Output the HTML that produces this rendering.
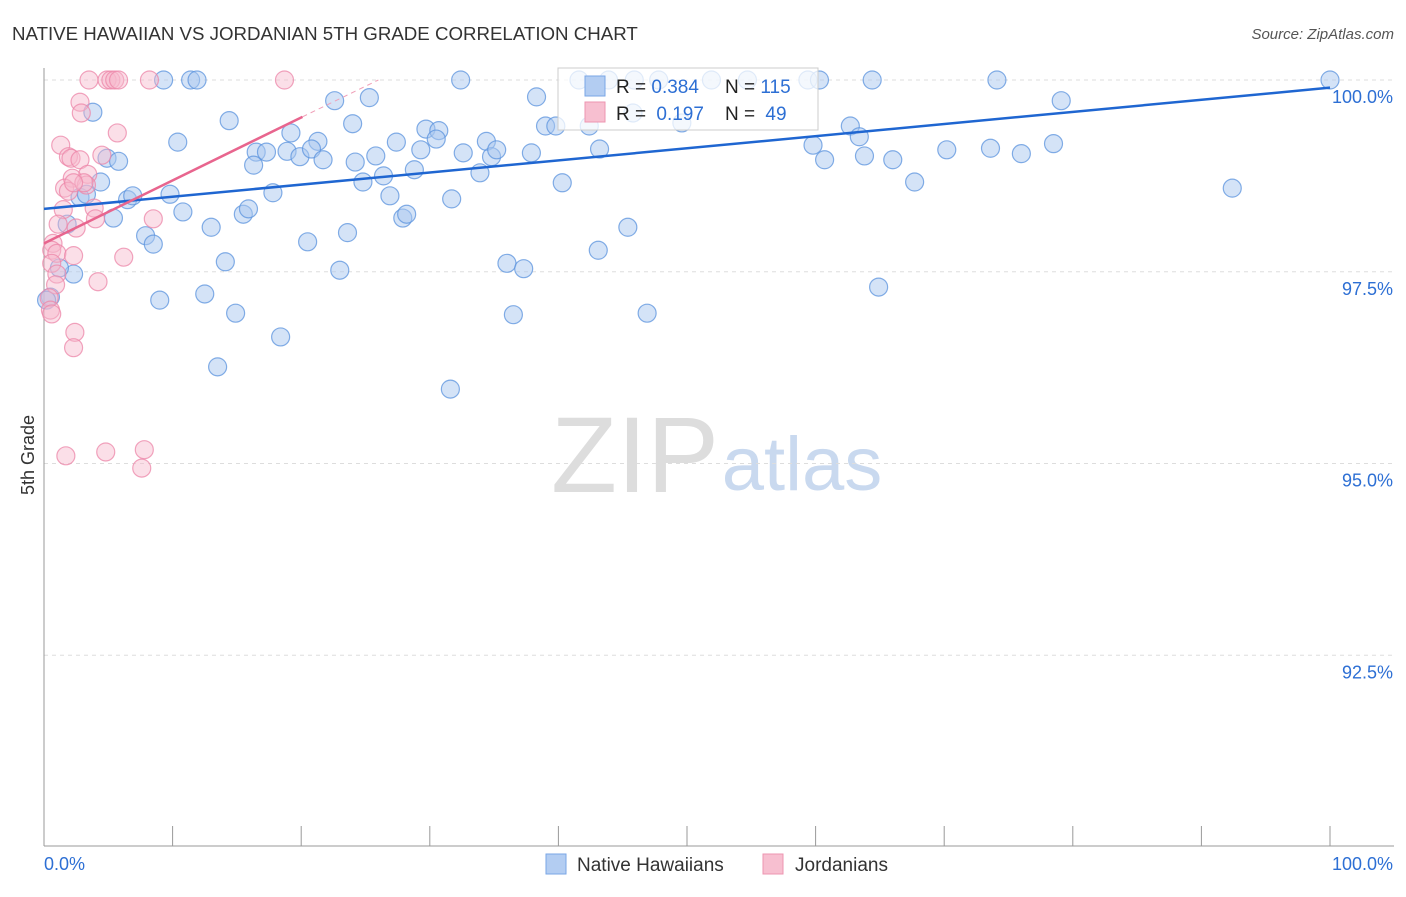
<!DOCTYPE html>
<html><head><meta charset="utf-8"><style>
body{margin:0;background:#fff;font-family:"Liberation Sans",sans-serif;}
svg text{font-family:"Liberation Sans",sans-serif;}
</style></head><body>
<svg id="chart" width="1406" height="892" viewBox="0 0 1406 892">
<text x="12" y="40" font-size="18.7" fill="#333">NATIVE HAWAIIAN VS JORDANIAN 5TH GRADE CORRELATION CHART</text>
<text x="1394" y="39" font-size="15" fill="#555" font-style="italic" text-anchor="end">Source: ZipAtlas.com</text>
<text x="34" y="455" font-size="18" fill="#333" text-anchor="middle" transform="rotate(-90 34 455)">5th Grade</text>
<g>
<text x="635" y="492" font-size="108" fill="#ddd" font-family="Liberation Serif" text-anchor="middle">ZIP</text>
<text x="802" y="490" font-size="76" fill="#c9d9ef" text-anchor="middle">atlas</text>
</g>
<g id="grid"></g>
<g id="axes"></g>
<g id="pts"></g>
<g id="trend"></g>
<g>
<rect x="558" y="68" width="260" height="62" fill="#fff" fill-opacity="0.75" stroke="#ccc"/>
<rect x="585" y="76" width="20" height="20" fill="#b3cdf2" stroke="#7aa6e6"/>
<rect x="585" y="102" width="20" height="20" fill="#f7bfd0" stroke="#ee94b0"/>
<text x="616" y="93" font-size="19" fill="#222">R = <tspan fill="#2d6fd4">0.384</tspan><tspan x="725">N = </tspan><tspan fill="#2d6fd4">115</tspan></text>
<text x="616" y="120" font-size="19" fill="#222">R = <tspan fill="#2d6fd4" dx="5">0.197</tspan><tspan x="725">N = </tspan><tspan fill="#2d6fd4" dx="5">49</tspan></text>
</g>
<g>
<rect x="546" y="854" width="20" height="20" fill="#b3cdf2" stroke="#7aa6e6"/>
<text x="577" y="871" font-size="19" fill="#333">Native Hawaiians</text>
<rect x="763" y="854" width="20" height="20" fill="#f7bfd0" stroke="#ee94b0"/>
<text x="795" y="871" font-size="19" fill="#333">Jordanians</text>
</g>
</svg>
<script>
const yTicks=[100,97.5,95,92.5];
const yTickLabels=["100.0%","97.5%","95.0%","92.5%"];
const xTickLabels=["0.0%","100.0%"];
const blueX=[9.3,11.4,11.9,32.4,41.6,43.9,45.9,47.8,51.9,54.7,59.4,60.3,64.4,74.1,100,3.8,22.6,25.3,38.3,79.1,10.4,14.4,19.2,21.3,24.0,29.7,30.7,34.4,39.0,39.8,42.4,45.8,49.6,62.7,63.4,92.4,4.9,5.8,16.5,17.3,18.9,19.9,20.8,21.7,24.2,25.8,27.4,29.3,30.5,32.6,34.8,35.2,37.9,43.2,59.8,60.7,63.8,66.0,70.2,73.6,76.0,78.5,4.4,16.3,26.4,28.8,33.9,24.8,40.3,67.7,2.8,3.3,6.5,6.9,9.8,17.8,26.9,31.7,5.4,10.8,15.5,15.9,27.9,28.2,13.0,1.8,7.9,8.5,20.5,23.6,43.1,45.4,14.1,23.0,36.0,37.3,2.3,1.2,9.0,12.5,64.9,14.9,36.5,46.9,18.4,13.5,31.6,0.5,0.2];
const blueY=[100,100,100,100,100,100,100,100,100,100,100,100,100,100,100,99.58,99.73,99.77,99.78,99.73,99.19,99.47,99.31,99.20,99.43,99.36,99.34,99.20,99.40,99.40,99.40,99.57,99.44,99.40,99.26,98.59,98.98,98.94,99.06,99.06,99.07,99.00,99.10,98.96,98.93,99.01,99.19,99.09,99.23,99.05,99.00,99.09,99.05,99.10,99.15,98.96,99.01,98.96,99.09,99.11,99.04,99.17,98.67,98.89,98.75,98.83,98.79,98.67,98.66,98.67,98.47,98.51,98.44,98.49,98.51,98.53,98.49,98.45,98.20,98.28,98.25,98.32,98.20,98.25,98.08,98.12,97.97,97.86,97.89,98.01,97.78,98.08,97.63,97.52,97.61,97.54,97.47,97.55,97.13,97.21,97.30,96.96,96.94,96.96,96.65,96.26,95.97,97.17,97.13];
const pinkX=[3.5,4.9,5.2,5.5,5.8,8.2,18.7,2.8,2.9,5.7,1.3,1.9,2.1,2.8,4.5,3.4,2.2,1.6,1.9,3.3,3.1,2.3,3.9,1.5,4.0,2.5,1.1,8.5,0.7,0.6,1.0,2.3,6.2,0.6,1.0,4.2,0.9,0.4,0.5,0.6,2.4,2.3,1.7,4.8,7.8,7.6];
const pinkY=[100,100,100,100,100,100,100,99.71,99.57,99.31,99.15,99.00,98.98,98.96,99.02,98.77,98.72,98.59,98.55,98.63,98.66,98.66,98.33,98.31,98.19,98.07,98.12,98.19,97.87,97.78,97.74,97.71,97.69,97.61,97.47,97.37,97.33,97.16,97.00,96.95,96.71,96.51,95.10,95.15,95.18,94.94];
const blueTrend=[[0,98.32],[100,99.90]];
const pinkTrend=[[0,97.87],[20.1,99.52]];
const pinkDash=[[20.1,99.52],[26,100]];
const NS="http://www.w3.org/2000/svg";
const xs=v=>44+v*12.86;
const ys=v=>80+(100-v)*76.7;
function mk(tag,attrs,parent){const e=document.createElementNS(NS,tag);for(const k in attrs)e.setAttribute(k,attrs[k]);document.getElementById(parent).appendChild(e);return e;}
yTicks.forEach((t,i)=>{
 const l=mk('line',{x1:44,x2:1394,y1:ys(t),y2:ys(t),stroke:'#ddd','stroke-dasharray':'4 4'},'grid');
 
 
 const tx=mk('text',{x:1393,y:ys(t)+23,'font-size':18,fill:'#2d6fd4','text-anchor':'end'},'grid');
 tx.textContent=yTickLabels[i];
 
 
});
const ax=mk('line',{x1:44,x2:44,y1:68,y2:846,stroke:'#999'},'axes');


const bx=mk('line',{x1:44,x2:1394,y1:846,y2:846,stroke:'#999'},'axes');


for(let i=0;i<=10;i++){
 const t=mk('line',{x1:xs(i*10),x2:xs(i*10),y1:826,y2:846,stroke:'#999'},'axes');
 
 
}
[[0,'start',44],[1,'end',1393]].forEach(([i,a,x])=>{
 const t=mk('text',{x:x,y:870,'font-size':18,fill:'#2d6fd4','text-anchor':a},'axes');
 t.textContent=xTickLabels[i];
 
 
});
blueX.forEach((x,i)=>{
 const c=mk('circle',{cx:xs(x),cy:ys(blueY[i]),r:9,fill:'#a9c8f0','fill-opacity':0.5,stroke:'#5b93de','stroke-opacity':0.75,'stroke-width':1.2},'pts');
 
 
});
pinkX.forEach((x,i)=>{
 const c=mk('circle',{cx:xs(x),cy:ys(pinkY[i]),r:9,fill:'#f7b8cc','fill-opacity':0.45,stroke:'#ec86a8','stroke-opacity':0.75,'stroke-width':1.2},'pts');
 
 
});
const bt=mk('line',{x1:xs(blueTrend[0][0]),y1:ys(blueTrend[0][1]),x2:xs(blueTrend[1][0]),y2:ys(blueTrend[1][1]),stroke:'#1f66d1','stroke-width':2.5},'trend');


const pt=mk('line',{x1:xs(pinkTrend[0][0]),y1:ys(pinkTrend[0][1]),x2:xs(pinkTrend[1][0]),y2:ys(pinkTrend[1][1]),stroke:'#e8658e','stroke-width':2.5},'trend');


const pd=mk('line',{x1:xs(pinkDash[0][0]),y1:ys(pinkDash[0][1]),x2:xs(pinkDash[1][0]),y2:ys(pinkDash[1][1]),stroke:'#f0a0b8','stroke-width':1,'stroke-dasharray':'5 4'},'trend');


</script>
</body></html>
